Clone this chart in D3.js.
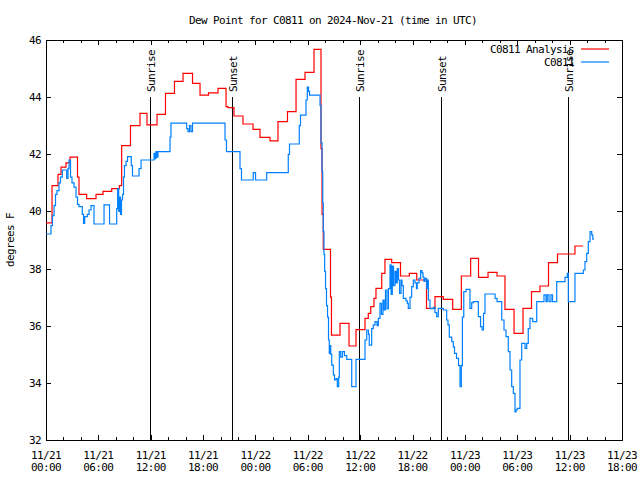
<!DOCTYPE html>
<html><head><meta charset="utf-8">
<script src="https://cdn.jsdelivr.net/npm/d3@7"></script>
<style>
body{margin:0;background:#fff}
svg{display:block}
text{font-family:"DejaVu Sans Mono","Liberation Mono",monospace;font-size:11px;letter-spacing:-0.62px;fill:#000}
</style>
</head><body>
<svg id="c" width="640" height="480"></svg>
<script>
const chartTitle = "Dew Point for C0811 on 2024-Nov-21 (time in UTC)";
const yAxisLabel = "degrees F";
const seriesNames = ["C0811 Analysis", "C0811"];
const seriesColors = ["#ff0000", "#0080ff"];
const yTickValues = [32, 34, 36, 38, 40, 42, 44, 46];
const xTickHours = [0, 6, 12, 18, 24, 30, 36, 42, 48, 54, 60, 66];
const startUTC = "2024-11-21T00:00:00Z";

// Hours since 11/21 00:00 UTC and dew point (F) for the analysis
const analysisHours = [0,0.69,1.375,1.72,2.29,2.75,3.61,3.78,4.66,5.73,6.53,7.53,8.40,8.67,9.68,10.77,11.57,12.72,13.69,14.72,15.70,16.79,17.65,18.62,19.71,20.63,20.85,21.54,22.57,23.72,24.52,25.67,26.58,27.67,28.65,29.68,30.71,31.51,31.63,31.77,32.60,32.71,33.69,34.72,35.52,36.55,36.93,37.21,37.58,37.81,38.47,38.84,39.61,40.62,41.63,42.48,43.60,44.57,45.52,46.60,47.59,48.66,49.56,50.65,51.68,52.59,53.63,54.66,55.63,56.60,57.58,58.61,60.61,61.53];
const analysisDewF = [39.6,40.9,41.3,41.55,41.7,41.9,41.2,40.6,40.45,40.6,40.7,40.8,40.9,42.3,43.0,43.43,43.03,43.4,44.13,44.55,44.83,44.48,44.07,44.15,44.31,43.67,43.63,43.34,43.06,42.87,42.59,42.47,43.14,43.49,44.62,44.87,45.67,42.2,39.9,38.67,37.0,35.67,36.08,35.29,35.86,36.26,36.43,36.67,36.96,37.31,37.83,38.32,38.21,37.74,37.83,37.6,36.61,37.02,36.92,36.57,37.74,38.36,37.69,37.87,37.74,36.57,35.73,36.61,37.19,37.39,38.21,38.51,38.79,38.79];

// Hours since 11/21 00:00 UTC and dew point (F) observed at the station
const stationHours = [0,0.57,0.74,0.92,1.09,1.26,1.49,1.66,1.87,2.37,2.52,2.64,2.81,2.98,3.21,3.44,3.61,3.78,4.16,4.30,4.43,4.73,4.93,5.16,5.50,6.65,7.28,8.10,8.21,8.33,8.44,8.54,8.65,8.77,8.88,8.99,9.17,9.34,9.77,9.91,10.66,10.89,12.38,12.49,12.60,12.72,12.83,14.21,14.32,16.12,16.27,16.44,16.61,16.79,20.51,20.68,22.23,22.40,23.75,24.01,25.29,27.76,27.90,29.02,29.16,29.79,29.94,30.08,30.19,31.40,31.51,31.63,31.71,31.77,31.85,31.93,32.03,32.14,32.26,32.37,32.46,32.54,32.63,32.74,32.92,33.06,33.23,33.38,33.54,33.61,33.77,33.97,34.20,34.46,35.03,35.52,36.55,36.75,36.95,37.04,37.32,37.50,37.70,37.93,38.08,38.27,38.44,38.61,38.75,38.90,39.07,39.24,39.42,39.55,39.68,39.82,39.99,40.13,40.25,40.39,40.51,40.68,40.79,40.94,41.25,41.40,41.51,41.71,41.90,42.09,42.28,42.45,42.54,42.74,42.93,43.08,43.20,43.31,43.43,43.62,43.71,43.81,44.00,44.38,44.57,44.77,44.95,45.52,45.91,46.06,46.21,46.49,46.67,46.81,47.04,47.27,47.44,47.59,47.71,47.87,48.13,48.58,48.78,48.96,49.54,49.79,49.96,50.13,50.30,51.45,51.68,52.22,52.48,52.71,52.97,53.17,53.36,53.55,53.74,53.86,54.00,54.31,54.51,54.89,55.08,55.26,55.46,55.77,56.23,57.06,57.29,57.44,57.64,57.86,58.04,58.52,59.47,59.73,59.85,60.61,61.57,61.76,61.96,62.14,62.34,62.53,62.65,62.79];
const stationDewF = [39.21,39.5,39.85,40.2,40.6,40.73,41.0,41.2,41.45,41.16,41.5,41.8,41.2,41.0,40.85,40.5,40.25,40.17,39.9,39.58,39.82,39.9,40.05,40.2,39.56,40.23,39.56,40.1,40.8,40.0,40.5,39.9,40.4,40.6,41.2,41.6,41.75,41.92,41.6,41.24,41.5,41.8,42.03,41.85,42.09,41.9,42.09,42.6,43.09,42.9,42.79,43.0,42.79,43.09,42.5,42.09,41.5,41.1,41.36,41.1,41.36,42.0,42.36,43.0,43.37,43.9,44.35,44.2,44.07,43.7,42.4,41.4,40.3,39.3,38.5,37.9,37.3,36.7,36.3,35.5,35.03,35.3,35.0,34.62,34.28,34.1,34.15,33.87,34.2,35.09,34.9,35.09,34.95,34.82,33.87,34.82,35.5,35.85,35.7,35.32,35.9,36.03,36.14,36.0,36.26,36.78,36.4,36.9,36.55,37.25,36.6,37.3,38.13,37.1,38.09,37.4,37.9,37.5,38.0,37.6,37.13,37.6,37.4,36.96,36.87,36.78,36.61,37.0,37.37,37.6,37.5,37.3,37.5,37.66,37.93,37.85,37.7,37.55,37.66,37.31,37.6,36.9,36.6,36.64,36.46,36.32,36.61,36.55,36.2,36.03,35.6,35.44,35.26,35.03,34.86,34.6,33.87,34.6,36.3,37.19,37.27,36.61,36.81,36.84,36.32,35.97,35.85,36.43,37.11,36.96,36.84,36.2,35.85,35.62,35.09,34.45,33.87,33.63,32.98,33.05,33.11,34.8,35.38,35.21,35.38,35.9,36.26,36.14,36.84,37.08,36.84,37.08,36.84,37.08,36.84,37.54,37.69,37.83,36.84,37.83,37.95,38.24,38.53,38.94,39.29,39.18,39.03,39.03];

const sunEventNames = ["Sunrise", "Sunset", "Sunrise", "Sunset", "Sunrise"];
const sunEventHours = [11.97, 21.35, 35.90, 45.30, 59.85];
const sunLineTopF = 44;

const svg = d3.select("#c");
const H = 3600e3;
const t0 = new Date(startUTC).getTime();
const toDate = h => new Date(t0 + h * H);

const m = {l: 46, r: 622, t: 40, b: 440};
const x = d3.scaleUtc().domain([toDate(0), toDate(66)]).range([m.l, m.r]);
const y = d3.scaleLinear().domain([32, 46]).range([m.b, m.t]);

svg.append("rect").attr("width", 640).attr("height", 480).attr("fill", "#fff");

// title
svg.append("text").attr("x", 333).attr("y", 24).attr("text-anchor", "middle").text(chartTitle);
// y label
svg.append("text").attr("transform", "translate(14,240) rotate(-90)").attr("text-anchor", "middle").text(yAxisLabel);

const g = svg.append("g").attr("shape-rendering", "crispEdges");
// minor x ticks (every 2 h), major (every 6 h)
const minor = d3.utcHour.every(2).range(toDate(0), toDate(66.01));
const majorDates = xTickHours.map(toDate);
const tick = (xx, len) => {
  g.append("line").attr("x1", xx).attr("x2", xx).attr("y1", m.b).attr("y2", m.b - len).attr("stroke", "#000");
  g.append("line").attr("x1", xx).attr("x2", xx).attr("y1", m.t).attr("y2", m.t + len).attr("stroke", "#000");
};
minor.forEach(d => tick(Math.round(x(d)) + 0.5, 3));
majorDates.forEach(d => tick(Math.round(x(d)) + 0.5, 5));

const fmtDay = d3.utcFormat("%m/%d"), fmtTime = d3.utcFormat("%H:%M");
majorDates.forEach(d => {
  const xx = x(d);
  svg.append("text").attr("x", xx).attr("y", 459).attr("text-anchor", "middle").text(fmtDay(d));
  svg.append("text").attr("x", xx).attr("y", 471).attr("text-anchor", "middle").text(fmtTime(d));
});

yTickValues.forEach(v => {
  const yy = Math.round(y(v)) + 0.5;
  g.append("line").attr("x1", m.l).attr("x2", m.l + 5).attr("y1", yy).attr("y2", yy).attr("stroke", "#000");
  g.append("line").attr("x1", m.r).attr("x2", m.r - 5).attr("y1", yy).attr("y2", yy).attr("stroke", "#000");
  svg.append("text").attr("x", 41).attr("y", y(v) + 4).attr("text-anchor", "end").text(v);
});

// sunrise / sunset markers
sunEventHours.forEach((h, i) => {
  const xx = Math.round(x(toDate(h))) + 0.5;
  g.append("line").attr("x1", xx).attr("x2", xx).attr("y1", y(sunLineTopF)).attr("y2", m.b).attr("stroke", "#000");
  svg.append("text").attr("transform", `translate(${xx + 4},92) rotate(-90)`).text(sunEventNames[i]);
});

const line = d3.line().x(d => x(toDate(d[0]))).y(d => y(d[1])).curve(d3.curveStepAfter);
const seriesData = [d3.zip(analysisHours, analysisDewF), d3.zip(stationHours, stationDewF)];
seriesData.forEach((data, i) => {
  svg.append("path").datum(data).attr("d", line).attr("fill", "none")
    .attr("stroke", seriesColors[i]).attr("stroke-width", 1.2);
});

// legend
seriesNames.forEach((name, i) => {
  const ly = 49 + i * 13;
  svg.append("text").attr("x", 574).attr("y", ly + 4).attr("text-anchor", "end").text(name);
  svg.append("line").attr("x1", 581).attr("x2", 609).attr("y1", ly).attr("y2", ly)
    .attr("stroke", seriesColors[i]).attr("stroke-width", 1.2);
});

// frame
g.append("rect").attr("x", m.l + 0.5).attr("y", m.t + 0.5).attr("width", m.r - m.l).attr("height", m.b - m.t)
  .attr("fill", "none").attr("stroke", "#000");
</script>
</body></html>
